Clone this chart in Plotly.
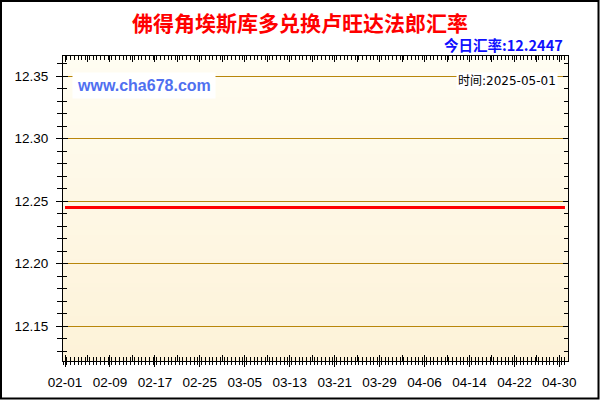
import base64, struct, zlib
import pandas as pd
import plotly.graph_objects as go

# ---- data ----
dates = pd.date_range("2025-02-01", "2025-05-01", freq="D").strftime("%Y-%m-%d").tolist()
rates = [
    12.2447, 12.2447, 12.2447, 12.2447, 12.2447, 12.2447, 12.2447, 12.2447, 12.2447, 12.2447,
    12.2447, 12.2447, 12.2447, 12.2447, 12.2447, 12.2447, 12.2447, 12.2447, 12.2447, 12.2447,
    12.2447, 12.2447, 12.2447, 12.2447, 12.2447, 12.2447, 12.2447, 12.2447, 12.2447, 12.2447,
    12.2447, 12.2447, 12.2447, 12.2447, 12.2447, 12.2447, 12.2447, 12.2447, 12.2447, 12.2447,
    12.2447, 12.2447, 12.2447, 12.2447, 12.2447, 12.2447, 12.2447, 12.2447, 12.2447, 12.2447,
    12.2447, 12.2447, 12.2447, 12.2447, 12.2447, 12.2447, 12.2447, 12.2447, 12.2447, 12.2447,
    12.2447, 12.2447, 12.2447, 12.2447, 12.2447, 12.2447, 12.2447, 12.2447, 12.2447, 12.2447,
    12.2447, 12.2447, 12.2447, 12.2447, 12.2447, 12.2447, 12.2447, 12.2447, 12.2447, 12.2447,
    12.2447, 12.2447, 12.2447, 12.2447, 12.2447, 12.2447, 12.2447, 12.2447, 12.2447, 12.2447,
]
y_ticks = [12.15, 12.20, 12.25, 12.30, 12.35]
y_ticklabels = ["12.15", "12.20", "12.25", "12.30", "12.35"]
title_text = "佛得角埃斯库多兑换卢旺达法郎汇率"
today_text = "今日汇率:12.2447"
site_text = "www.cha678.com"
time_text = "时间:2025-05-01"

# ---- gradient background image ----
def make_png(colors):
    raw = b"".join(b"\x00" + bytes(c) for c in colors)
    def chunk(t, d):
        c = struct.pack(">I", len(d)) + t + d
        return c + struct.pack(">I", zlib.crc32(t + d) & 0xffffffff)
    ihdr = struct.pack(">IIBBBBB", 1, len(colors), 8, 2, 0, 0, 0)
    png = b"\x89PNG\r\n\x1a\n" + chunk(b"IHDR", ihdr) + chunk(b"IDAT", zlib.compress(raw)) + chunk(b"IEND", b"")
    return "data:image/png;base64," + base64.b64encode(png).decode()

top_c, bot_c = (255, 253, 242), (253, 242, 216)
n = 64
grad = [tuple(round(top_c[k] + (bot_c[k] - top_c[k]) * i / (n - 1)) for k in range(3)) for i in range(n)]
bg_src = make_png(grad)

W, H = 600, 400
ml, mr, mt, mb = 63, 32, 56, 39
pw, ph = W - ml - mr, H - mt - mb

x_range = ["2025-01-31 15:20", "2025-05-01 13:00"]
y_range = [12.122, 12.366]

fig = go.Figure()
fig.add_trace(go.Scatter(x=dates, y=rates, mode="lines",
                         line=dict(color="#FF0000", width=3), hoverinfo="skip"))
fig.add_trace(go.Scatter(x=dates, y=rates, mode="lines", xaxis="x2", yaxis="y2",
                         line=dict(color="rgba(0,0,0,0)", width=0), opacity=0,
                         hoverinfo="skip", showlegend=False))

tickfont = dict(family="Liberation Sans, Arial", size=13.5, color="#000000")
fig.update_layout(
    width=W, height=H, showlegend=False, autosize=False,
    margin=dict(l=ml, r=mr, t=mt, b=mb, pad=0, autoexpand=False),
    paper_bgcolor="#FFFFFF", plot_bgcolor="rgba(0,0,0,0)",
    xaxis=dict(type="date", range=x_range, tick0="2025-02-01", dtick=8 * 86400000,
               tickformat="%m-%d", ticks="outside", ticklen=5, tickcolor="#000",
               tickwidth=1, showgrid=False, zeroline=False, showline=True, automargin=False,
               linecolor="#000", linewidth=1, tickfont=tickfont, ticklabelstandoff=4,
               minor=dict(dtick=16 * 3600000, ticks="outside", ticklen=3,
                          tickcolor="#000", showgrid=False)),
    xaxis2=dict(type="date", range=x_range, overlaying="x", anchor="y2", side="bottom",
                tick0="2025-02-01", dtick=4 * 86400000, ticks="inside", ticklen=6,
                tickcolor="#000", showticklabels=False, showgrid=False, zeroline=False,
                showline=True, linecolor="#000", mirror="ticks", automargin=False,
                minor=dict(dtick=16 * 3600000, ticks="inside", ticklen=4,
                           tickcolor="#000", showgrid=False)),
    yaxis=dict(range=y_range, tickvals=y_ticks, ticktext=y_ticklabels, ticks="outside",
               ticklen=6, tickcolor="#000", showgrid=True, gridcolor="#B8860B",
               gridwidth=1, zeroline=False, showline=True, linecolor="#000", automargin=False,
               tickfont=tickfont, ticklabelstandoff=5,
               minor=dict(tickmode="linear", dtick=0.01, tick0=12.15, ticks="outside", ticklen=5,
                          tickcolor="#000", showgrid=False)),
    yaxis2=dict(range=y_range, overlaying="y", anchor="x2", side="left",
                tick0=12.15, dtick=0.05, ticks="inside", ticklen=5, tickcolor="#000",
                showticklabels=False, showgrid=False, zeroline=False, showline=True,
                linecolor="#000", mirror="ticks", automargin=False,
                minor=dict(dtick=0.01, tick0=12.15, ticks="inside", ticklen=4,
                           tickcolor="#000", showgrid=False)),
    images=[dict(source=bg_src, xref="paper", yref="paper", x=0, y=1, sizex=1, sizey=1,
                 sizing="stretch", layer="below", xanchor="left", yanchor="top")],
    shapes=[dict(type="rect", xref="paper", yref="paper",
                 x0=-(ml - 1) / pw, x1=1 + (mr - 1.5) / pw,
                 y0=-(mb - 1.5) / ph, y1=1 + (mt - 1) / ph,
                 line=dict(color="#000", width=2), layer="above")],
    annotations=[
        dict(text=f"<b>{title_text}</b>", xref="paper", yref="paper",
             x=(300 - ml) / pw, y=1 + (mt - 22) / ph, xanchor="center", yanchor="middle",
             showarrow=False, font=dict(family="Noto Sans CJK SC", size=21, color="#FF0000")),
        dict(text=f"<b>{today_text}</b>", xref="paper", yref="paper",
             x=(565 - ml) / pw, y=1 + (mt - 44) / ph, xanchor="right", yanchor="middle",
             showarrow=False, font=dict(family="Noto Sans CJK SC", size=14.5, color="#1010FF")),
        dict(text=f"<b>{site_text}</b>", xref="paper", yref="paper",
             x=(72 - ml) / pw, y=1 - (85 - mt) / ph, xanchor="left", yanchor="middle",
             showarrow=False, bgcolor="#FFFFFF", borderpad=4,
             font=dict(family="Liberation Sans, Arial", size=16, color="#5070F0")),
        dict(text=time_text, xref="paper", yref="paper",
             x=(558 - ml) / pw, y=1 - (81 - mt) / ph, xanchor="right", yanchor="middle",
             showarrow=False, bgcolor="#FFFFFF", borderpad=1,
             font=dict(family="DejaVu Sans, Noto Sans CJK SC", size=12, color="#000000")),
    ],
)

fig.write_html("out.html", config={"displayModeBar": False, "responsive": False},
               post_script="document.body.style.margin='0';document.body.style.padding='0';document.documentElement.style.overflow='hidden';")
